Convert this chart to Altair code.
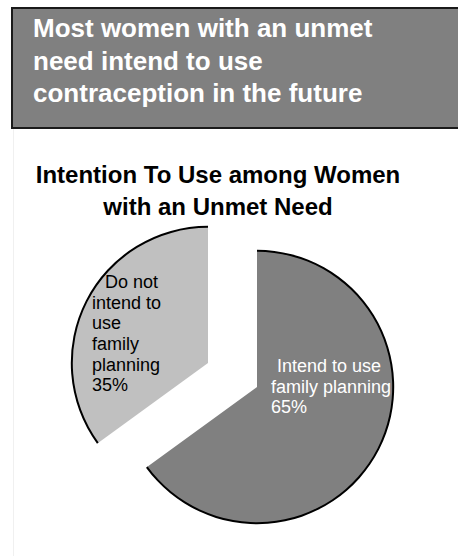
import altair as alt
import pandas as pd

# ---- data ----
categories = ["Intend to use family planning", "Do not intend to use family planning"]
values = [65, 35]
label_first = ["Intend to use", "Do not"]
label_rest = [["family planning"], ["intend to", "use", "family", "planning"]]
slice_colors = ["#808080", "#c0c0c0"]
label_colors = ["#ffffff", "#000000"]

banner_lines = ["Most women with an unmet", "need intend to use", "contraception in the future"]
title_lines = ["Intention To Use among Women", "with an Unmet Need"]

# derived table
starts, ends, acc = [], [], 0
for v in values:
    starts.append(acc)
    acc += v
    ends.append(acc)
rest = ["\n".join(lines + [f"{v}%"]) for lines, v in zip(label_rest, values)]
df = pd.DataFrame({
    "category": categories,
    "value": values,
    "start": starts,
    "end": ends,
    "first": label_first,
    "rest": rest,
})

FONT = "Liberation Sans, Arial, Helvetica, sans-serif"
W, H = 458, 556
R = 136
LH = 20.7

base = alt.Chart(df)
theta_scale = alt.Scale(domain=[0, sum(values)], range=[0, 6.283185307179586])
one = alt.datum.category == categories[0]

# banner
banner = base.mark_rect(fill="#808080", stroke="#1a1a1a", strokeWidth=2).encode(
    x=alt.value(12), x2=alt.value(480), y=alt.value(8), y2=alt.value(128)
).transform_filter(one)

banner_text = base.mark_text(
    align="left", baseline="alphabetic", font=FONT, fontSize=26, fontWeight="bold",
    color="#ffffff", lineHeight=32.5
).encode(
    x=alt.value(33), y=alt.value(37), text=alt.value(banner_lines)
).transform_filter(one)

faint = base.mark_rule(color="#f0f0f0", strokeWidth=1).encode(
    x=alt.value(13.5), y=alt.value(129), y2=alt.value(H)
).transform_filter(one)

title = base.mark_text(
    align="center", baseline="alphabetic", font=FONT, fontSize=24, fontWeight="bold",
    color="#000000", lineHeight=32
).encode(
    x=alt.value(218), y=alt.value(183), text=alt.value(title_lines)
).transform_filter(one)

layers = [banner, banner_text, faint, title]

centers = [(257, 387), (208, 363)]
label_pos = [(271, 372), (92, 288)]
first_dx = [6, 13]

for i, cat in enumerate(categories):
    cx, cy = centers[i]
    sub = base.transform_filter(alt.datum.category == cat)
    fill = sub.mark_arc(radius=R, fill=slice_colors[i]).encode(
        theta=alt.Theta("start:Q", scale=theta_scale),
        theta2="end:Q",
        x=alt.value(cx), y=alt.value(cy),
    )
    ring = sub.mark_arc(radius=R + 1.2, innerRadius=R - 0.8, fill="#000000").encode(
        theta=alt.Theta("start:Q", scale=theta_scale),
        theta2="end:Q",
        x=alt.value(cx), y=alt.value(cy),
    )
    lx, ly = label_pos[i]
    txt1 = sub.mark_text(
        align="left", baseline="alphabetic", font=FONT, fontSize=18,
        color=label_colors[i], dx=first_dx[i]
    ).encode(
        x=alt.value(lx), y=alt.value(ly), text="first:N"
    )
    txt2 = sub.mark_text(
        align="left", baseline="alphabetic", font=FONT, fontSize=18,
        color=label_colors[i], lineBreak="\n", lineHeight=LH
    ).encode(
        x=alt.value(lx), y=alt.value(ly + LH), text="rest:N"
    )
    layers += [fill, ring, txt1, txt2]

chart = alt.layer(*layers).properties(
    width=W, height=H, padding=0, autosize=alt.AutoSizeParams(type="none"),
    background="#ffffff"
).configure_view(stroke=None)

chart.save("out.html", embed_options={"renderer": "svg", "actions": False})
